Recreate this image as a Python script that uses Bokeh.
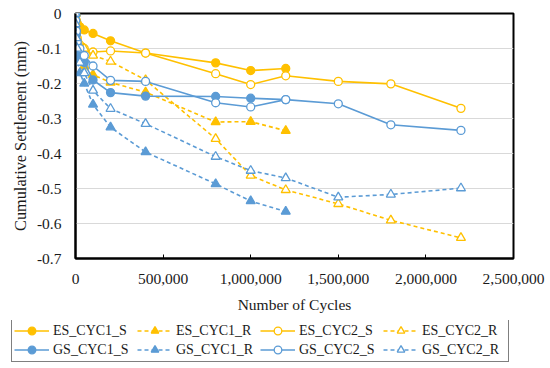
from bokeh.plotting import figure
from bokeh.models import (Range1d, FixedTicker, NumeralTickFormatter, CustomJSTickFormatter,
                          Legend, LegendItem, ColumnDataSource)
from bokeh.embed import file_html
from bokeh.resources import INLINE

# ---- data ----
cycles_short = [0, 1000, 5000, 10000, 25000, 50000, 100000, 200000, 400000, 800000, 1000000, 1200000]
cycles_long = [0, 1000, 5000, 10000, 25000, 50000, 100000, 200000, 400000, 800000, 1000000, 1200000,
               1500000, 1800000, 2200000]

es_cyc1_s = [0, -0.008, -0.02, -0.028, -0.038, -0.047, -0.057, -0.078, -0.113, -0.141, -0.163, -0.157]
es_cyc1_r = [0, -0.03, -0.07, -0.10, -0.13, -0.15, -0.175, -0.197, -0.225, -0.31, -0.309, -0.335]
es_cyc2_s = [0, -0.02, -0.05, -0.07, -0.09, -0.10, -0.11, -0.107, -0.113, -0.172, -0.203, -0.178,
             -0.194, -0.201, -0.271]
es_cyc2_r = [0, -0.02, -0.05, -0.07, -0.09, -0.10, -0.12, -0.137, -0.19, -0.358, -0.463, -0.504,
             -0.544, -0.591, -0.641]
gs_cyc1_s = [0, -0.02, -0.06, -0.09, -0.12, -0.14, -0.19, -0.226, -0.236, -0.237, -0.242, -0.246]
gs_cyc1_r = [0, -0.04, -0.09, -0.13, -0.17, -0.20, -0.26, -0.325, -0.396, -0.487, -0.536, -0.566]
gs_cyc2_s = [0, -0.02, -0.05, -0.08, -0.10, -0.12, -0.15, -0.191, -0.194, -0.255, -0.267, -0.246,
             -0.258, -0.318, -0.334]
gs_cyc2_r = [0, -0.03, -0.07, -0.10, -0.14, -0.17, -0.22, -0.272, -0.315, -0.409, -0.449, -0.47,
             -0.525, -0.517, -0.499]

x_ticks = [0, 500000, 1000000, 1500000, 2000000, 2500000]
y_ticks = [0, -0.1, -0.2, -0.3, -0.4, -0.5, -0.6, -0.7]

ORANGE = "#FFC000"
BLUE = "#5B9BD5"
FONT = "Liberation Serif"
TXT = "#1a1a1a"

series = [
    ("ES_CYC1_S", cycles_short, es_cyc1_s, ORANGE, "solid", "circle", True),
    ("ES_CYC1_R", cycles_short, es_cyc1_r, ORANGE, "4 3", "triangle", True),
    ("ES_CYC2_S", cycles_long, es_cyc2_s, ORANGE, "solid", "circle", False),
    ("ES_CYC2_R", cycles_long, es_cyc2_r, ORANGE, "4 3", "triangle", False),
    ("GS_CYC1_S", cycles_short, gs_cyc1_s, BLUE, "solid", "circle", True),
    ("GS_CYC1_R", cycles_short, gs_cyc1_r, BLUE, "4 3", "triangle", True),
    ("GS_CYC2_S", cycles_long, gs_cyc2_s, BLUE, "solid", "circle", False),
    ("GS_CYC2_R", cycles_long, gs_cyc2_r, BLUE, "4 3", "triangle", False),
]

MAIN_H = 320
p = figure(width=550, height=MAIN_H, output_backend="svg", toolbar_location=None,
           x_range=Range1d(0, 2500000), y_range=Range1d(-0.7, 0),
           min_border_left=75, min_border_right=37, min_border_top=13, min_border_bottom=62)

p.outline_line_color = "black"
p.outline_line_width = 2
p.background_fill_color = "white"
p.border_fill_color = "white"

p.xgrid.grid_line_color = None
p.ygrid.grid_line_color = "#D9D9D9"
p.ygrid.grid_line_width = 1

p.xaxis.ticker = FixedTicker(ticks=x_ticks)
p.yaxis.ticker = FixedTicker(ticks=y_ticks)
p.xaxis.formatter = NumeralTickFormatter(format="0,0")
p.yaxis.formatter = CustomJSTickFormatter(code="return Math.abs(tick) < 1e-9 ? '0' : tick.toFixed(1);")

for ax in (p.xaxis[0], p.yaxis[0]):
    ax.axis_line_color = "black"
    ax.axis_line_width = 2
    ax.minor_tick_line_color = None
    ax.major_label_text_font = FONT
    ax.major_label_text_font_size = "15.5px"
    ax.major_label_text_color = TXT
    ax.axis_label_text_font = FONT
    ax.axis_label_text_font_style = "normal"
    ax.axis_label_text_color = TXT

p.xaxis.axis_label_text_font_size = "15.5px"
p.yaxis.axis_label_text_font_size = "16.3px"

p.xaxis.major_tick_in = 4
p.xaxis.major_tick_out = 0
p.xaxis.major_tick_line_color = "black"
p.xaxis.major_label_standoff = 15
p.xaxis.axis_label = "Number of Cycles"
p.xaxis.axis_label_standoff = 9

p.yaxis.major_tick_in = 0
p.yaxis.major_tick_out = 0
p.yaxis.major_label_standoff = 14
p.yaxis.axis_label = "Cumulative Settlement (mm)"
p.yaxis.axis_label_standoff = 4

# legend panel (own small figure under the chart)
LEG_H = 368 - MAIN_H
pl = figure(width=550, height=LEG_H, output_backend="svg", toolbar_location=None,
            x_range=Range1d(0, 1), y_range=Range1d(0, 1),
            x_axis_location=None, y_axis_location=None,
            min_border_left=0, min_border_right=0, min_border_top=0, min_border_bottom=0)
pl.grid.visible = False
pl.outline_line_color = None
pl.border_fill_color = "white"
pl.background_fill_color = "white"

nan = float("nan")
items = []
for name, xs, ys, color, dash, marker, filled in series:
    src = ColumnDataSource(dict(x=xs, y=ys))
    sz = 8 if marker == "circle" else 9
    fill = color if filled else "white"
    p.line("x", "y", source=src, line_color=color, line_width=1.6, line_dash=dash)
    p.scatter("x", "y", source=src, marker=marker, size=sz, line_color=color, line_width=1.3,
              fill_color=fill)
    dummy = ColumnDataSource(dict(x=[nan], y=[nan]))
    lr = pl.line("x", "y", source=dummy, line_color=color, line_width=1.6, line_dash=dash)
    sr = pl.scatter("x", "y", source=dummy, marker=marker, size=sz - 1, line_color=color,
                    line_width=1.3, fill_color=fill)
    items.append(LegendItem(label=name, renderers=[lr, sr]))

legend = Legend(items=items, ncols=4, orientation="horizontal", location=(11, 6),
                glyph_width=35, glyph_height=19, label_height=19, label_width=84,
                label_standoff=4, spacing=0, padding=2, margin=0,
                label_text_font=FONT, label_text_font_size="14px", label_text_color=TXT,
                border_line_color="black", border_line_width=1.2,
                background_fill_color="white", background_fill_alpha=1)
pl.add_layout(legend, "center")

open("out.html", "w").write(file_html([p, pl], INLINE))
